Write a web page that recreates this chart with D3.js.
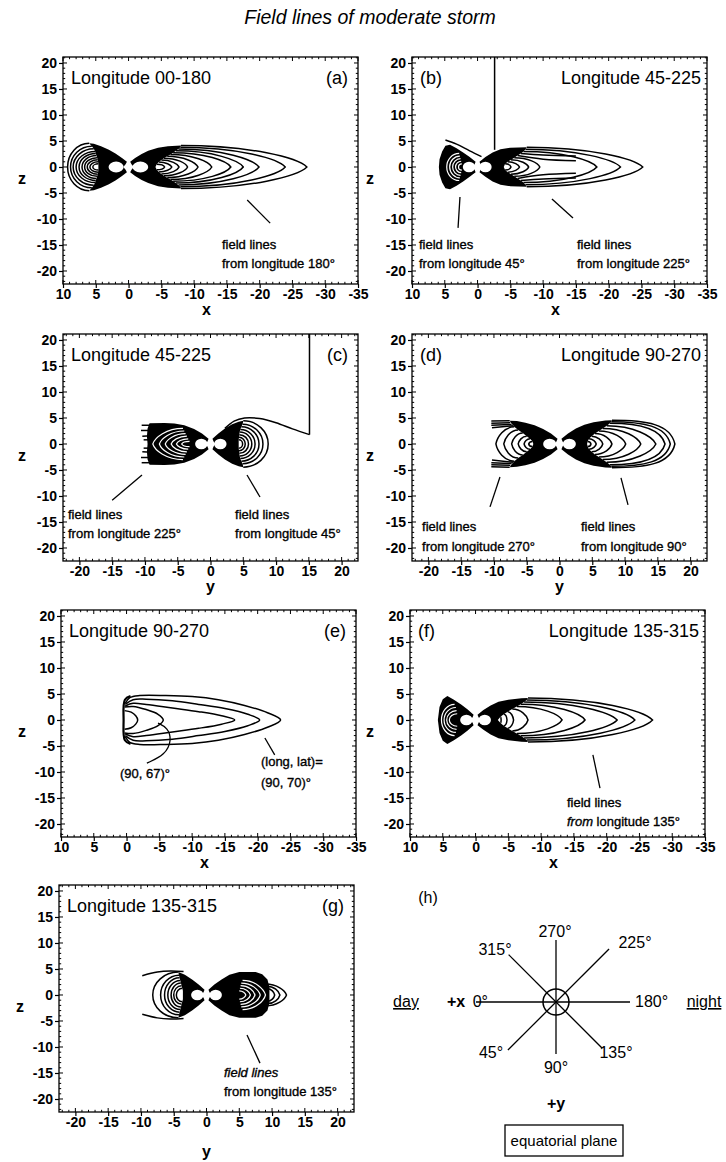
<!DOCTYPE html>
<html>
<head>
<meta charset="utf-8">
<script src="https://cdn.jsdelivr.net/npm/d3@7"></script>
<style>
  body { margin: 0; background: #fff; }
  svg { display: block; }
  text { font-family: "Liberation Sans", Arial, Helvetica, sans-serif; fill: #000; }
</style>
</head>
<body>
<svg id="chart" width="726" height="1162"></svg>
<script>
// ---------------- axis ticks ----------------
const xTicksX = [10, 5, 0, -5, -10, -15, -20, -25, -30, -35];
const xTicksY = [-20, -15, -10, -5, 0, 5, 10, 15, 20];
const zTicks  = [20, 15, 10, 5, 0, -5, -10, -15, -20];

// ---------------- field-line bundles ----------------
// fill: upper half of the dense bundle outline [h, z] (mirrored about z = 0)
// lines: [root h, root z, nose h, bluntness]  closed loops, mirrored
// gaps: same form, drawn white inside a dense bundle
// hole: [centre h, radius h, radius z]
const aDayFill  = [[0.8,0],[0.45,0.55],[0.25,1.0],[1.0,1.75],[2.0,2.6],[3.0,3.3],[4.2,4.0],[5.3,4.45],[6.0,4.55],[5.6,4.0],[5.3,3.5],[5.1,3.0],[5.0,2.6],[4.9,2.2],[4.8,1.8],[4.7,1.4],[4.65,1.0],[4.6,0.6],[4.6,0]];
const aDayLines = [[6.0,4.55,9.3],[5.6,4.0,8.85],[5.3,3.5,8.45],[5.1,3.0,8.0],[5.0,2.6,7.55],[4.9,2.2,7.1],[4.8,1.8,6.7],[4.7,1.4,6.3],[4.65,1.0,5.9],[4.6,0.6,5.45]];
const aDayHole  = [1.9, 1.15, 1.05];
const aNightFill  = [[-0.8,0],[-0.45,0.55],[-0.25,1.0],[-1.0,1.75],[-2.0,2.5],[-3.0,3.1],[-4.5,3.7],[-6.0,4.0],[-8.0,4.15],[-7.9,3.8],[-7.6,3.45],[-7.2,3.1],[-6.8,2.75],[-6.4,2.4],[-5.9,2.05],[-5.4,1.7],[-5.0,1.35],[-4.6,0.95],[-4.3,0.55],[-4.1,0]];
const aNightLines = [[-8.0,4.15,-27.2],[-7.9,3.8,-23.9],[-7.6,3.45,-19.9],[-7.2,3.1,-17.5],[-6.8,2.75,-15.6],[-6.4,2.4,-12.7],[-5.9,2.05,-10.6],[-5.4,1.7,-9.0],[-5.0,1.35,-7.7],[-4.6,0.95,-6.6],[-4.3,0.55,-5.5]];
const aNightHole  = [-1.8, 1.2, 1.05];

const bDayFill  = [[0.7,0],[0.45,0.55],[0.3,1.0],[1.2,1.9],[2.2,2.8],[3.2,3.6],[4.2,4.3],[4.9,4.1],[5.4,3.0],[5.8,1.5],[5.9,0]];
const bDayGaps  = [[2.8,2.6,4.7],[2.7,2.1,4.25],[2.6,1.6,3.8],[2.5,1.1,3.35],[2.4,0.6,2.9]];
const bDayHole  = [1.3, 0.95, 1.0];
const bNightFill  = [[-0.7,0],[-0.45,0.55],[-0.3,1.0],[-1.2,1.9],[-2.3,2.8],[-3.5,3.4],[-5.0,3.7],[-7.5,3.8],[-7.3,3.4],[-7.0,3.0],[-6.6,2.6],[-6.1,2.2],[-5.6,1.8],[-5.1,1.4],[-4.6,1.0],[-4.2,0.6],[-4.0,0]];
const bNightLines = [[-7.5,3.8,-25.2],[-7.3,3.4,-21.8],[-7.0,3.0,-18.2],[-5.6,1.8,-9.5],[-5.1,1.4,-7.8],[-4.6,1.0,-6.4],[-4.2,0.6,-5.1]];
const bNightTails = [[[-6.6,2.6],[-10,2.3],[-15,2.1]], [[-6.1,2.2],[-10,1.5],[-15,1.2]]];
const bNightHole  = [-1.2, 0.95, 1.0];
const bOpen = [[[4.9,5.2],[3.2,4.4],[1.2,3.1],[-0.6,2.0]], [[-2.6,3.3],[-2.6,22]]];

const cLeftFill  = [[-0.7,0],[-0.45,0.55],[-0.3,1.0],[-1.3,2.0],[-2.5,2.9],[-4.0,3.6],[-5.5,3.95],[-7.0,4.05],[-9.3,4.0],[-9.6,3.0],[-9.7,1.5],[-9.6,0]];
const cLeftTails = [[[-9.0,3.6],[-10.5,3.6]], [[-9.0,2.6],[-10.6,2.6]], [[-9.0,1.6],[-10.4,1.5]], [[-9.0,0.8],[-10.2,0.8]]];
const cLeftGaps  = [[-4.2,3.0,-8.8],[-4.0,2.5,-7.8],[-3.8,2.0,-6.9],[-3.6,1.5,-6.0],[-3.4,1.0,-5.2],[-3.2,0.5,-4.4]];
const cLeftHole  = [-1.4, 0.95, 1.0];
const cRightFill  = [[0.7,0],[0.45,0.55],[0.3,1.0],[1.2,2.0],[2.2,3.0],[3.3,3.8],[4.3,4.3],[5.0,4.45],[4.9,3.8],[4.7,3.3],[4.55,2.8],[4.45,2.3],[4.4,1.8],[4.35,1.3],[4.3,0.8],[4.3,0]];
const cRightLines = [[5.0,4.45,8.8],[4.9,3.8,8.0],[4.7,3.3,7.4],[4.55,2.8,6.8],[4.45,2.3,6.3],[4.4,1.8,5.8],[4.35,1.3,5.3],[4.3,0.8,4.9]];
const cRightHole  = [1.5, 0.95, 1.0];
const cOpen = [[[2.2,3.0],[3.6,4.4],[5.2,5.0],[7.5,4.9],[10.0,4.1],[12.5,2.9],[15.1,1.8]], [[15.1,1.8],[15.1,22]]];

const dLeftFill  = [[-0.7,0],[-0.45,0.55],[-0.3,1.0],[-1.3,2.0],[-2.5,2.9],[-3.8,3.6],[-5.2,4.1],[-6.5,4.4],[-7.6,4.45],[-7.3,3.9],[-6.9,3.3],[-6.3,2.7],[-5.6,2.1],[-5.0,1.5],[-4.5,1.0],[-4.1,0.5],[-4.0,0]];
const dLeftLines = [[-6.9,3.3,-9.7],[-6.3,2.7,-8.5],[-5.6,2.1,-7.3],[-5.0,1.5,-6.3],[-4.5,1.0,-5.4],[-4.1,0.5,-4.7]];
const dLeftTails = [[[-7.6,4.45],[-10.4,4.4]], [[-7.5,4.1],[-10.4,4.0]], [[-7.3,3.75],[-10.4,3.6]], [[-7.1,3.5],[-10.3,3.1]]];
const dLeftHole  = [-1.5, 1.0, 1.0];
const dRightFill  = [[0.7,0],[0.45,0.55],[0.3,1.0],[1.3,2.0],[2.5,3.0],[3.8,3.7],[5.2,4.2],[7.0,4.5],[8.0,4.55],[7.7,4.0],[7.2,3.5],[6.6,3.0],[6.0,2.5],[5.4,2.0],[4.9,1.5],[4.5,1.0],[4.3,0.5],[4.2,0]];
const dRightLines = [[8.0,4.55,17.6,0.85],[7.9,4.3,16.9,0.8],[7.7,4.0,16.1,0.7],[7.2,3.5,14.7],[6.6,3.0,12.4],[6.0,2.5,10.1],[5.4,2.0,8.0],[4.9,1.5,6.6],[4.5,1.0,5.6],[4.3,0.5,4.8]];
const dRightHole  = [1.5, 1.0, 1.0];

// panel (e): individual traced lines, upper half ending at the equatorial crossing
const eLine70 = [[0.2,3.2],[-0.5,4.3],[-2,4.7],[-6,4.7],[-10,4.5],[-14,3.9],[-18,2.8],[-21.5,1.4],[-23.5,0]];
const eLineB  = [[0.2,3.0],[-1,3.9],[-3,4.0],[-7,3.7],[-11,3.0],[-15,2.2],[-18.5,1.1],[-20.3,0]];
const eLineC  = [[0.2,2.7],[-1,3.2],[-3,3.0],[-7,2.3],[-11,1.6],[-14.5,0.8],[-16.5,0]];
const eLine67 = [[0.3,2.5],[-1,2.6],[-3,2.0],[-4.8,1.1],[-5.6,0]];
const eLineD  = [[0.3,1.8],[-0.7,1.5],[-1.4,0.8],[-1.7,0]];
const eEdge   = [[-0.6,4.6],[0.25,3.9],[0.45,0],[0.25,-3.9],[-0.6,-4.6]];

const fDayFill  = [[0.8,0],[0.45,0.55],[0.3,1.0],[1.2,2.0],[2.2,3.0],[3.3,3.9],[4.3,4.6],[5.0,4.0],[5.5,2.5],[5.75,0]];
const fDayGaps  = [[3.2,3.0,5.2],[3.0,2.4,4.8],[2.9,1.8,4.4],[2.8,1.2,4.0]];
const fDayHole  = [1.4, 0.95, 1.0];
const fNightFill  = [[-0.8,0],[-0.45,0.55],[-0.3,1.0],[-1.2,1.9],[-2.3,2.8],[-3.5,3.5],[-5.0,3.9],[-7.0,4.2],[-8.0,4.25],[-7.8,3.85],[-7.4,3.45],[-6.9,3.05],[-6.3,2.6],[-5.6,2.1],[-4.9,1.6],[-4.3,1.1],[-3.8,0.6],[-3.4,0]];
const fNightLines = [[-8.0,4.25,-27.0],[-7.8,3.85,-24.3],[-7.4,3.45,-21.6],[-6.9,3.05,-16.7],[-6.3,2.6,-13.2],[-5.6,2.1,-8.0],[-4.9,1.6,-5.8],[-4.3,1.1,-4.8],[-3.8,0.6,-3.9]];
const fNightHole  = [-1.4, 0.95, 1.0];

const gLeftFill  = [[-0.8,0],[-0.45,0.55],[-0.3,1.0],[-1.2,2.0],[-2.2,3.0],[-3.3,3.9],[-4.3,4.4],[-4.2,3.8],[-4.1,3.3],[-4.0,2.8],[-3.9,2.3],[-3.8,1.8],[-3.7,1.3],[-3.6,0.8],[-3.6,0]];
const gLeftLines = [[-4.3,4.4,-8.2],[-4.2,3.8,-7.0],[-4.1,3.3,-6.4],[-4.0,2.8,-5.9],[-3.9,2.3,-5.4],[-3.8,1.8,-5.0],[-3.7,1.3,-4.6]];
const gLeftOpen  = [[-3.5,4.5],[-5.5,4.6],[-7.5,4.4],[-9.8,3.7]];
const gLeftHole  = [-1.4, 0.95, 1.0];
const gRightFill  = [[0.8,0],[0.45,0.55],[0.3,1.0],[1.2,2.0],[2.3,3.0],[3.5,3.9],[5.0,4.4],[7.5,4.4],[8.5,4.0],[9.3,3.0],[9.6,1.5],[9.6,0]];
const gRightGaps  = [[5.5,2.8,9.0],[5.3,2.3,8.2],[5.2,1.8,7.4],[5.1,1.3,6.7],[5.0,0.8,6.0]];
const gRightLines = [[9.0,2.1,12.2],[9.2,1.7,11.2],[9.3,1.2,10.4]];
const gRightHole  = [1.4, 0.95, 1.0];

// ---------------- panel (h) ----------------
const hAngles = [0, 45, 90, 135, 180, 225, 270, 315];
const hSpoke  = [80, 68, 52, 65, 74, 75, 62, 67];

// ---------------- layout ----------------
const svg = d3.select("#chart");
const rowTop = [57, 334, 610, 885];
const frameH = 227;
const zDomain = [-22.5, 21.15];
const lineW = 1.5;

svg.append("text").attr("x", 370).attr("y", 24).attr("text-anchor", "middle")
  .style("font-size", "19.5px").style("font-style", "italic").text("Field lines of moderate storm");

function makePanel(cfg) {
  const [x0, x1] = cfg.fx;
  const top = rowTop[cfg.row], bot = top + frameH;
  const sx = d3.scaleLinear().domain(cfg.xd).range([x0, x1]);
  const sz = d3.scaleLinear().domain(zDomain).range([bot, top]);
  const g = svg.append("g");
  const clipId = "clip-" + cfg.id;
  svg.append("clipPath").attr("id", clipId).append("rect")
    .attr("x", x0).attr("y", top).attr("width", x1 - x0).attr("height", frameH);
  const plot = g.append("g").attr("clip-path", `url(#${clipId})`);

  // axes
  const fmt = d => String(d);
  const ax = g.append("g").attr("transform", `translate(0,${bot})`)
    .call(d3.axisBottom(sx).tickValues(cfg.xt).tickSize(4).tickPadding(1).tickFormat(fmt));
  const az = g.append("g").attr("transform", `translate(${x0},0)`)
    .call(d3.axisLeft(sz).tickValues(zTicks).tickSize(4).tickPadding(2).tickFormat(fmt));
  [ax, az].forEach(a => {
    a.select(".domain").remove();
    a.selectAll("line").attr("stroke", "#000").attr("stroke-width", 1.2);
    a.selectAll("text").style("font-size", "14px").style("font-weight", "bold").attr("fill", "#000");
  });
  // minor ticks (every unit) on all four sides
  const xr = d3.extent(cfg.xd), zr = zDomain;
  const minorX = d3.range(Math.ceil(xr[0]), Math.floor(xr[1]) + 1);
  const minorZ = d3.range(Math.ceil(zr[0]), Math.floor(zr[1]) + 1);
  const tk = g.append("g").attr("stroke", "#000").attr("stroke-width", 1);
  minorX.forEach(v => {
    const len = v % 5 === 0 ? 4 : 2.2;
    tk.append("line").attr("x1", sx(v)).attr("x2", sx(v)).attr("y1", bot).attr("y2", bot - len);
    tk.append("line").attr("x1", sx(v)).attr("x2", sx(v)).attr("y1", top).attr("y2", top + len);
  });
  minorZ.forEach(v => {
    const len = v % 5 === 0 ? 4 : 2.2;
    tk.append("line").attr("y1", sz(v)).attr("y2", sz(v)).attr("x1", x0).attr("x2", x0 + len);
    tk.append("line").attr("y1", sz(v)).attr("y2", sz(v)).attr("x1", x1).attr("x2", x1 - len);
  });
  g.append("rect").attr("x", x0).attr("y", top).attr("width", x1 - x0).attr("height", frameH)
    .attr("fill", "none").attr("stroke", "#000").attr("stroke-width", 1.3);

  // axis titles
  g.append("text").attr("x", (x0 + x1) / 2 + cfg.titleDx).attr("y", bot + cfg.titleDy)
    .attr("text-anchor", "middle").style("font-size", "16px").style("font-weight", "bold").text(cfg.xName);
  g.append("text").attr("x", cfg.zx).attr("y", sz(0) + 17)
    .attr("text-anchor", "middle").style("font-size", "16px").style("font-weight", "bold").text("z");

  // panel captions
  const cap = g.append("g").style("font-size", "18px");
  if (cfg.capLeft) {
    cap.append("text").attr("x", x0 + 8).attr("y", top + 27).text(cfg.longitude);
    cap.append("text").attr("x", x1 - 10).attr("y", top + 27).attr("text-anchor", "end").text(cfg.tag);
  } else {
    cap.append("text").attr("x", x0 + 8).attr("y", top + 27).text(cfg.tag);
    cap.append("text").attr("x", x1 - 6).attr("y", top + 27).attr("text-anchor", "end").text(cfg.longitude);
  }
  return { g, plot, sx, sz };
}

// closed field line: root -> nose -> mirrored root
function loopPath(sx, sz, l, shape) {
  const [xr, hr, n, kk] = l;
  const [c1, kDef, s] = shape;
  const k = kk === undefined ? kDef : kk;
  const p = d3.path();
  const cx1 = xr + c1 * (n - xr), cx2 = n + s * (xr - n);
  p.moveTo(sx(xr), sz(hr));
  p.bezierCurveTo(sx(cx1), sz(hr), sx(cx2), sz(k * hr), sx(n), sz(0));
  p.bezierCurveTo(sx(cx2), sz(-k * hr), sx(cx1), sz(-hr), sx(xr), sz(-hr));
  return p.toString();
}

const mirror = pts => pts.map(([x, z]) => [x, -z]);
function closedOutline(up) {
  return up.concat(mirror(up.slice(0, -1)).reverse());
}

function drawBundle(P, b) {
  const { plot, sx, sz } = P;
  const line = d3.line().x(d => sx(d[0])).y(d => sz(d[1]));
  const shape = b.shape || [0.55, 0.5, 0];
  if (b.fill) {
    plot.append("path").attr("d", line.curve(d3.curveLinear)(closedOutline(b.fill)) + "Z").attr("fill", "#000");
  }
  (b.lines || []).forEach(l => plot.append("path").attr("d", loopPath(sx, sz, l, shape))
    .attr("fill", "none").attr("stroke", "#000").attr("stroke-width", lineW));
  (b.gaps || []).forEach(l => plot.append("path").attr("d", loopPath(sx, sz, l, shape))
    .attr("fill", "none").attr("stroke", "#fff").attr("stroke-width", 1.2));
  (b.tails || []).forEach(t => {
    [t, mirror(t)].forEach(pts => plot.append("path")
      .attr("d", d3.line().x(d => sx(d[0])).y(d => sz(d[1])).curve(d3.curveCatmullRom)(pts))
      .attr("fill", "none").attr("stroke", "#000").attr("stroke-width", lineW));
  });
  if (b.hole) {
    const [c, rx, rz] = b.hole;
    plot.append("ellipse").attr("cx", sx(c)).attr("cy", sz(0))
      .attr("rx", Math.abs(sx(c + rx) - sx(c))).attr("ry", Math.abs(sz(rz) - sz(0))).attr("fill", "#fff");
  }
}

function drawCurve(P, pts, opts = {}) {
  const { plot, sx, sz } = P;
  const gen = d3.line().x(d => sx(d[0])).y(d => sz(d[1])).curve(opts.linear ? d3.curveLinear : d3.curveCatmullRom);
  const sets = opts.closed ? [closedOutline(pts)] : (opts.mirror ? [pts, mirror(pts)] : [pts]);
  sets.forEach(s => plot.append("path").attr("d", gen(s)).attr("fill", "none")
    .attr("stroke", "#000").attr("stroke-width", opts.width || lineW));
}

function note(P, at, lines, styles) {
  const t = P.g.append("g").style("font-size", "13px").attr("stroke", "#000").attr("stroke-width", 0.35);
  lines.forEach((s, i) => {
    t.append("text").attr("x", P.sx(at[i][0])).attr("y", P.sz(at[i][1]))
      .style("font-style", styles && styles[i] ? styles[i] : "normal").text(s);
  });
}
function leader(P, pts, curved) {
  const gen = d3.line().x(d => P.sx(d[0])).y(d => P.sz(d[1])).curve(curved ? d3.curveBasis : d3.curveLinear);
  P.g.append("path").attr("d", gen(pts)).attr("fill", "none").attr("stroke", "#000").attr("stroke-width", 1.3);
}

const nightShape = [0.55, 0.42, 0.07];
const dayShape = [0.55, 0.55, 0];

// (a)
const A = makePanel({ id: "a", row: 0, fx: [63, 358], xd: [10, -35], xt: xTicksX, xName: "x", titleDx: -4, titleDy: 31, zx: 22, capLeft: true, longitude: "Longitude 00-180", tag: "(a)" });
drawBundle(A, { fill: aDayFill, lines: aDayLines, hole: aDayHole, shape: dayShape });
drawBundle(A, { fill: aNightFill, lines: aNightLines, hole: aNightHole, shape: nightShape });
leader(A, [[-18.1, -6.35], [-21.6, -10.8]]);
note(A, [[-14.25, -15.8], [-14.25, -19.4]], ["field lines", "from longitude 180°"]);

// (b)
const B = makePanel({ id: "b", row: 0, fx: [412, 707], xd: [10, -35], xt: xTicksX, xName: "x", titleDx: -4, titleDy: 31, zx: 370, capLeft: false, longitude: "Longitude 45-225", tag: "(b)" });
drawBundle(B, { fill: bDayFill, gaps: bDayGaps, hole: bDayHole, shape: dayShape });
drawBundle(B, { fill: bNightFill, lines: bNightLines, tails: bNightTails, hole: bNightHole, shape: nightShape });
drawCurve(B, bOpen[0]);
drawCurve(B, bOpen[1], { linear: true });
leader(B, [[2.68, -5.77], [2.98, -11.7]]);
leader(B, [[-11.35, -6.15], [-14.56, -9.8]]);
note(B, [[8.93, -15.8], [8.93, -19.4]], ["field lines", "from longitude 45°"]);
note(B, [[-15.17, -15.8], [-15.17, -19.4]], ["field lines", "from longitude 225°"]);

// (c)
const C = makePanel({ id: "c", row: 1, fx: [63, 358], xd: [-22.5, 22.5], xt: xTicksY, xName: "y", titleDx: 0, titleDy: 31, zx: 22, capLeft: true, longitude: "Longitude 45-225", tag: "(c)" });
drawBundle(C, { fill: cLeftFill, gaps: cLeftGaps, tails: cLeftTails, hole: cLeftHole, shape: nightShape });
drawBundle(C, { fill: cRightFill, lines: cRightLines, hole: cRightHole, shape: dayShape });
drawCurve(C, cOpen[0]);
drawCurve(C, cOpen[1], { linear: true });
leader(C, [[-10.45, -5.96], [-15.0, -10.8]]);
leader(C, [[5.57, -5.96], [7.55, -10.2]]);
note(C, [[-21.74, -14.4], [-21.74, -18.1]], ["field lines", "from longitude 225°"]);
note(C, [[3.74, -14.4], [3.74, -18.1]], ["field lines", "from longitude 45°"]);

// (d)
const D = makePanel({ id: "d", row: 1, fx: [412, 707], xd: [-22.5, 22.5], xt: xTicksY, xName: "y", titleDx: 0, titleDy: 31, zx: 370, capLeft: false, longitude: "Longitude 90-270", tag: "(d)" });
drawBundle(D, { fill: dLeftFill, lines: dLeftLines, tails: dLeftTails, hole: dLeftHole, shape: nightShape });
drawBundle(D, { fill: dRightFill, lines: dRightLines, hole: dRightHole, shape: nightShape });
leader(D, [[-9.08, -6.35], [-10.6, -12.1]]);
leader(D, [[9.38, -6.5], [10.45, -11.7]]);
note(D, [[-20.97, -16.7], [-20.97, -20.6]], ["field lines", "from longitude 270°"]);
note(D, [[3.28, -16.7], [3.28, -20.6]], ["field lines", "from longitude 90°"]);

// (e)
const E = makePanel({ id: "e", row: 2, fx: [61, 356], xd: [10, -35], xt: xTicksX, xName: "x", titleDx: -4, titleDy: 31, zx: 22, capLeft: true, longitude: "Longitude 90-270", tag: "(e)" });
[eLine70, eLineB, eLineC, eLine67, eLineD].forEach(l => drawCurve(E, l, { closed: true }));
drawCurve(E, eEdge, { width: 2.2 });
leader(E, [[-3.1, -8.3], [-5.9, -6.7], [-6.9, -3.85], [-6.3, -1.5], [-4.8, -0.6]], true);
leader(E, [[-21.1, -3.46], [-22.6, -6.7]]);
note(E, [[1.0, -11.15]], ["(90, 67)°"]);
note(E, [[-20.5, -8.85], [-20.5, -12.9]], ["(long, lat)=", "(90, 70)°"]);

// (f)
const F = makePanel({ id: "f", row: 2, fx: [410, 705], xd: [10, -35], xt: xTicksX, xName: "x", titleDx: -4, titleDy: 31, zx: 370, capLeft: false, longitude: "Longitude 135-315", tag: "(f)" });
drawBundle(F, { fill: fDayFill, gaps: fDayGaps, hole: fDayHole, shape: dayShape });
drawBundle(F, { fill: fNightFill, lines: fNightLines, hole: fNightHole, shape: nightShape });
leader(F, [[-17.9, -6.7], [-18.98, -13.1]]);
{
  const t = F.g.append("g").style("font-size", "13px").attr("stroke", "#000").attr("stroke-width", 0.35);
  t.append("text").attr("x", F.sx(-13.95)).attr("y", F.sz(-16.7)).text("field lines");
  const t2 = t.append("text").attr("x", F.sx(-13.95)).attr("y", F.sz(-20.4));
  t2.append("tspan").style("font-style", "italic").text("from");
  t2.append("tspan").text(" longitude 135°");
}

// (g)
const G = makePanel({ id: "g", row: 3, fx: [59, 354], xd: [-22.5, 22.5], xt: xTicksY, xName: "y", titleDx: 0, titleDy: 45, zx: 20, capLeft: true, longitude: "Longitude 135-315", tag: "(g)" });
drawBundle(G, { fill: gLeftFill, lines: gLeftLines, hole: gLeftHole, shape: dayShape });
drawCurve(G, gLeftOpen, { mirror: true });
drawBundle(G, { fill: gRightFill, gaps: gRightGaps, lines: gRightLines, hole: gRightHole, shape: nightShape });
leader(G, [[6.18, -7.7], [8.16, -13.1]]);
note(G, [[2.67, -15.8], [2.67, -19.4]], ["field lines", "from longitude 135°"], ["italic", "normal"]);

// (h) equatorial-plane key
{
  const cx = 556, cy = 1002;
  const h = svg.append("g");
  const dir = a => [-Math.cos(a * Math.PI / 180), Math.sin(a * Math.PI / 180)];
  hAngles.forEach((a, i) => {
    const [dx, dy] = dir(a);
    h.append("line").attr("x1", cx).attr("y1", cy).attr("x2", cx + dx * hSpoke[i]).attr("y2", cy + dy * hSpoke[i])
      .attr("stroke", "#000").attr("stroke-width", 1.3);
  });
  h.append("circle").attr("cx", cx).attr("cy", cy).attr("r", 13).attr("fill", "none").attr("stroke", "#000").attr("stroke-width", 1.5);
  const lab = h.append("g").style("font-size", "16px");
  const hl = [["0°", 488, 1007, "end"], ["45°", 491, 1058, "middle"], ["90°", 556, 1073, "middle"], ["135°", 616, 1058, "middle"],
              ["180°", 635, 1007, "start"], ["225°", 635, 948, "middle"], ["270°", 555, 937, "middle"], ["315°", 495, 955, "middle"]];
  hl.forEach(([s, x, y, an]) => lab.append("text").attr("x", x).attr("y", y).attr("text-anchor", an).text(s));
  lab.append("text").attr("x", 428).attr("y", 903).attr("text-anchor", "middle").text("(h)");
  lab.append("text").attr("x", 456).attr("y", 1007).attr("text-anchor", "middle").style("font-weight", "bold").text("+x");
  lab.append("text").attr("x", 556).attr("y", 1109).attr("text-anchor", "middle").style("font-weight", "bold").text("+y");
  lab.append("text").attr("x", 406).attr("y", 1007).attr("text-anchor", "middle").style("text-decoration", "underline").text("day");
  lab.append("text").attr("x", 704).attr("y", 1007).attr("text-anchor", "middle").style("text-decoration", "underline").text("night");
  h.append("rect").attr("x", 505).attr("y", 1125).attr("width", 118).attr("height", 31).attr("fill", "none").attr("stroke", "#000").attr("stroke-width", 1.3);
  lab.append("text").attr("x", 564).attr("y", 1146).attr("text-anchor", "middle").style("font-size", "15px").text("equatorial plane");
}
</script>
</body>
</html>
